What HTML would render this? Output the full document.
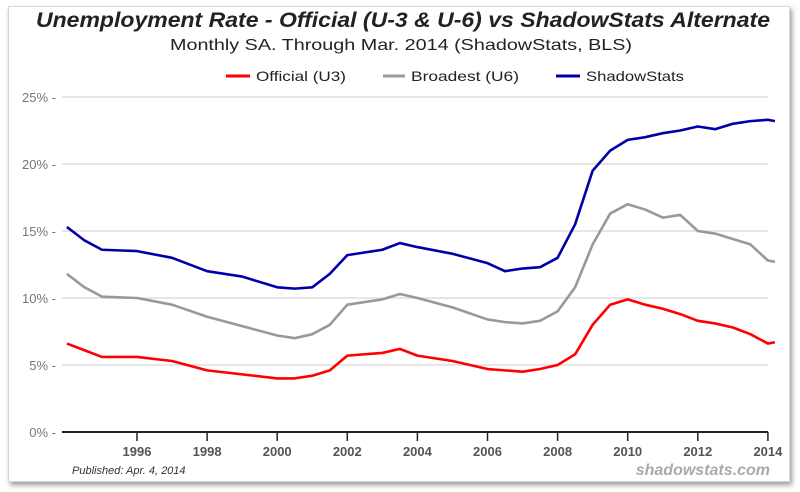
<!DOCTYPE html>
<html><head><meta charset="utf-8"><style>
body{margin:0;width:800px;height:492px;background:#fff;overflow:hidden;font-family:"Liberation Sans",sans-serif}
#frame{position:absolute;left:8px;top:6px;width:780px;height:474px;border:1px solid #d8d8d8;box-shadow:2px 3px 5px #999;background:#fff}
svg{position:absolute;left:0;top:0}
</style></head><body>
<div id="frame"></div>
<svg id="chart" width="800" height="492">
<text x="36" y="27" textLength="734" lengthAdjust="spacingAndGlyphs" font-size="21" font-weight="bold" font-style="italic" fill="#222">Unemployment Rate - Official (U-3 &amp; U-6) vs ShadowStats Alternate</text>
<text x="170" y="50" textLength="462" lengthAdjust="spacingAndGlyphs" font-size="16" fill="#222">Monthly SA. Through Mar. 2014  (ShadowStats, BLS)</text>
<g font-size="14" fill="#222">
<g><line x1="226" y1="76" x2="250" y2="76" stroke="#ff0000" stroke-width="3"/><text x="256" y="81" textLength="90" lengthAdjust="spacingAndGlyphs">Official (U3)</text></g>
<g><line x1="383" y1="76" x2="405" y2="76" stroke="#999" stroke-width="3"/><text x="411" y="81" textLength="108" lengthAdjust="spacingAndGlyphs">Broadest (U6)</text></g>
<g><line x1="556" y1="76" x2="580" y2="76" stroke="#0000aa" stroke-width="3"/><text x="586" y="81" textLength="98" lengthAdjust="spacingAndGlyphs">ShadowStats</text></g>
</g>
<g id="grid"></g><g id="series"></g><g id="axes"></g>
<text x="72" y="474" font-size="11" font-style="italic" fill="#333">Published: Apr. 4, 2014</text>
<text x="770" y="475" text-anchor="end" font-size="16" font-weight="bold" font-style="italic" fill="#aaa">shadowstats.com</text>
</svg>
<script>
const yTicks=[0,5,10,15,20,25];
const xTicks=[1996,1998,2000,2002,2004,2006,2008,2010,2012,2014];
const dates=[1994,1994.5,1995,1996,1997,1998,1999,2000,2000.5,2001,2001.5,2002,2003,2003.5,2004,2005,2006,2006.5,2007,2007.5,2008,2008.5,2009,2009.5,2010,2010.5,2011,2011.5,2012,2012.5,2013,2013.5,2014,2014.2];
const shadow=[15.3,14.3,13.6,13.5,13.0,12.0,11.6,10.8,10.7,10.8,11.8,13.2,13.6,14.1,13.8,13.3,12.6,12.0,12.2,12.3,13.0,15.5,19.5,21.0,21.8,22.0,22.3,22.5,22.8,22.6,23.0,23.2,23.3,23.2];
const u6=[11.8,10.8,10.1,10.0,9.5,8.6,7.9,7.2,7.0,7.3,8.0,9.5,9.9,10.3,10.0,9.3,8.4,8.2,8.1,8.3,9.0,10.8,14.0,16.3,17.0,16.6,16.0,16.2,15.0,14.8,14.4,14.0,12.8,12.7];
const u3=[6.6,6.1,5.6,5.6,5.3,4.6,4.3,4.0,4.0,4.2,4.6,5.7,5.9,6.2,5.7,5.3,4.7,4.6,4.5,4.7,5.0,5.8,8.0,9.5,9.9,9.5,9.2,8.8,8.3,8.1,7.8,7.3,6.6,6.7];
const X=d=>137+(d-1996)*35.05, Y=v=>432-v*13.4;
const NS="http://www.w3.org/2000/svg";
function mk(t,a,p){const e=document.createElementNS(NS,t);for(const k in a)e.setAttribute(k,a[k]);p.appendChild(e);return e;}
const grid=document.getElementById('grid'),axes=document.getElementById('axes'),ser=document.getElementById('series');
yTicks.forEach(v=>{
 if(v>0){const g=mk('line',{x1:62,x2:768,y1:Y(v),y2:Y(v),stroke:'#ddd','stroke-width':1.5},grid);
 
 }
 const t=mk('text',{x:56,y:Y(v)+5,'text-anchor':'end','font-size':13,fill:'#777'},axes);t.textContent=v+'% -';
 
 
});
const ax=mk('line',{x1:62,x2:768,y1:432,y2:432,stroke:'#222','stroke-width':2},axes);


xTicks.forEach(y=>{
 mk('line',{x1:X(y),x2:X(y),y1:432,y2:441,stroke:'#222','stroke-width':1.5},axes);
 const t=mk('text',{x:X(y),y:456,'text-anchor':'middle','font-size':13,'font-weight':'bold',fill:'#555'},axes);t.textContent=y;
 
 
});
[[u3,'#ff0000','u3'],[u6,'#999999','u6'],[shadow,'#0000aa','shadowstats']].forEach(([d,c,n])=>{
 const p=mk('polyline',{points:d.map((v,i)=>X(dates[i])+','+Y(v)).join(' '),fill:'none',stroke:c,'stroke-width':2.6,'stroke-linejoin':'round'},ser);
 
 
});
</script>
</body></html>
